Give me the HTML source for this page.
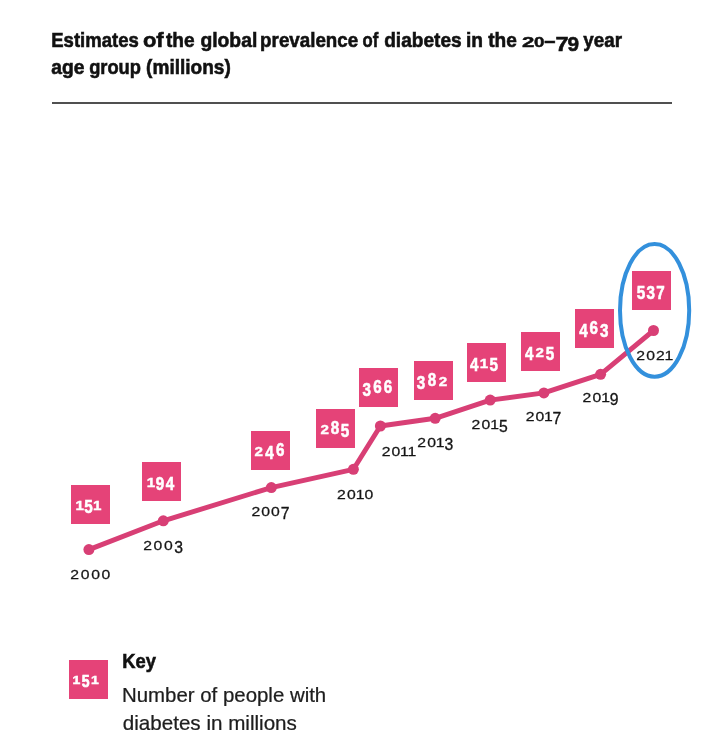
<!DOCTYPE html>
<html><head><meta charset="utf-8"><style>
html,body{margin:0;padding:0;background:#fff;width:718px;height:738px;overflow:hidden}
svg{display:block;font-family:"Liberation Sans",sans-serif;will-change:transform}
</style></head><body>
<svg width="718" height="738" viewBox="0 0 718 738">
<rect width="718" height="738" fill="#fff"/>
<text transform="translate(51.22 47.00) scale(0.8825 1.0000)" font-size="21" font-weight="bold" fill="#111" stroke="#111" stroke-width="0.60">Estimates</text>
<text transform="translate(142.96 47.00) scale(1.0421 1.0000)" font-size="21" font-weight="bold" fill="#111" stroke="#111" stroke-width="0.60">of</text>
<text transform="translate(165.90 47.00) scale(0.9097 1.0000)" font-size="21" font-weight="bold" fill="#111" stroke="#111" stroke-width="0.60">the</text>
<text transform="translate(200.38 47.00) scale(0.9203 1.0000)" font-size="21" font-weight="bold" fill="#111" stroke="#111" stroke-width="0.60">global</text>
<text transform="translate(260.11 47.00) scale(0.8944 1.0000)" font-size="21" font-weight="bold" fill="#111" stroke="#111" stroke-width="0.60">prevalence</text>
<text transform="translate(362.61 47.00) scale(0.7947 1.0000)" font-size="21" font-weight="bold" fill="#111" stroke="#111" stroke-width="0.60">of</text>
<text transform="translate(384.19 47.00) scale(0.9096 1.0000)" font-size="21" font-weight="bold" fill="#111" stroke="#111" stroke-width="0.60">diabetes</text>
<text transform="translate(465.99 47.00) scale(0.9125 1.0000)" font-size="21" font-weight="bold" fill="#111" stroke="#111" stroke-width="0.60">in</text>
<text transform="translate(488.20 47.00) scale(0.9097 1.0000)" font-size="21" font-weight="bold" fill="#111" stroke="#111" stroke-width="0.60">the</text>
<text transform="translate(583.30 47.00) scale(0.8953 1.0000)" font-size="21" font-weight="bold" fill="#111" stroke="#111" stroke-width="0.60">year</text>
<text transform="translate(521.94 47.00) scale(1.0600 0.6849)" font-size="21" font-weight="bold" fill="#111" stroke="#111" stroke-width="0.60">2</text>
<text transform="translate(533.90 47.00) scale(0.9000 0.6849)" font-size="21" font-weight="bold" fill="#111" stroke="#111" stroke-width="0.60">0</text>
<text transform="translate(544.24 46.50) scale(0.9600 1.0000)" font-size="21" font-weight="bold" fill="#111" stroke="#111" stroke-width="0.60">–</text>
<text transform="translate(555.48 51.00) scale(1.1200 0.9589)" font-size="21" font-weight="bold" fill="#111" stroke="#111" stroke-width="0.60">7</text>
<text transform="translate(567.41 51.00) scale(0.9900 0.9589)" font-size="21" font-weight="bold" fill="#111" stroke="#111" stroke-width="0.60">9</text>
<text transform="translate(51.18 74.30) scale(0.9171 1.0000)" font-size="21" font-weight="bold" fill="#111" stroke="#111" stroke-width="0.60">age</text>
<text transform="translate(89.13 74.30) scale(0.8724 1.0000)" font-size="21" font-weight="bold" fill="#111" stroke="#111" stroke-width="0.60">group</text>
<text transform="translate(146.09 74.30) scale(0.9077 1.0000)" font-size="21" font-weight="bold" fill="#111" stroke="#111" stroke-width="0.60">(millions)</text>
<rect x="52" y="102" width="620" height="2" fill="#505050"/>
<polyline points="88.9,549.6 163.3,520.8 271.3,487.6 353.4,469.3 380.4,426.0 435.2,418.3 490.2,400.1 543.9,392.9 600.6,374.3 653.5,330.5" fill="none" stroke="#d83f75" stroke-width="4.9" stroke-linejoin="round"/>
<circle cx="88.9" cy="549.6" r="5.5" fill="#d83f75"/>
<circle cx="163.3" cy="520.8" r="5.5" fill="#d83f75"/>
<circle cx="271.3" cy="487.6" r="5.5" fill="#d83f75"/>
<circle cx="353.4" cy="469.3" r="5.5" fill="#d83f75"/>
<circle cx="380.4" cy="426.0" r="5.5" fill="#d83f75"/>
<circle cx="435.2" cy="418.3" r="5.5" fill="#d83f75"/>
<circle cx="490.2" cy="400.1" r="5.5" fill="#d83f75"/>
<circle cx="543.9" cy="392.9" r="5.5" fill="#d83f75"/>
<circle cx="600.6" cy="374.3" r="5.5" fill="#d83f75"/>
<circle cx="653.5" cy="330.5" r="5.5" fill="#d83f75"/>
<rect x="71" y="485" width="39" height="39" fill="#e54378"/>
<text transform="translate(79.80 509.90) scale(0.950 0.836)" text-anchor="middle" font-size="16" font-weight="bold" fill="#fff" stroke="#fff" stroke-width="0.50">1</text>
<text transform="translate(88.50 513.10) scale(0.950 1.126)" text-anchor="middle" font-size="16" font-weight="bold" fill="#fff" stroke="#fff" stroke-width="0.50">5</text>
<text transform="translate(97.20 509.90) scale(0.950 0.836)" text-anchor="middle" font-size="16" font-weight="bold" fill="#fff" stroke="#fff" stroke-width="0.50">1</text>
<rect x="142" y="462" width="39" height="39" fill="#e54378"/>
<text transform="translate(151.00 486.90) scale(0.950 0.836)" text-anchor="middle" font-size="16" font-weight="bold" fill="#fff" stroke="#fff" stroke-width="0.50">1</text>
<text transform="translate(159.87 490.10) scale(0.950 1.126)" text-anchor="middle" font-size="16" font-weight="bold" fill="#fff" stroke="#fff" stroke-width="0.50">9</text>
<text transform="translate(170.00 490.10) scale(0.950 1.126)" text-anchor="middle" font-size="16" font-weight="bold" fill="#fff" stroke="#fff" stroke-width="0.50">4</text>
<rect x="251" y="431" width="39" height="39" fill="#e54378"/>
<text transform="translate(258.60 455.90) scale(0.950 0.836)" text-anchor="middle" font-size="16" font-weight="bold" fill="#fff" stroke="#fff" stroke-width="0.50">2</text>
<text transform="translate(269.35 459.10) scale(0.950 1.126)" text-anchor="middle" font-size="16" font-weight="bold" fill="#fff" stroke="#fff" stroke-width="0.50">4</text>
<text transform="translate(280.10 455.90) scale(0.950 1.136)" text-anchor="middle" font-size="16" font-weight="bold" fill="#fff" stroke="#fff" stroke-width="0.50">6</text>
<rect x="316" y="409" width="39" height="39" fill="#e54378"/>
<text transform="translate(324.80 433.90) scale(0.950 0.836)" text-anchor="middle" font-size="16" font-weight="bold" fill="#fff" stroke="#fff" stroke-width="0.50">2</text>
<text transform="translate(334.85 433.90) scale(0.950 1.136)" text-anchor="middle" font-size="16" font-weight="bold" fill="#fff" stroke="#fff" stroke-width="0.50">8</text>
<text transform="translate(344.90 437.10) scale(0.950 1.126)" text-anchor="middle" font-size="16" font-weight="bold" fill="#fff" stroke="#fff" stroke-width="0.50">5</text>
<rect x="359" y="368" width="39" height="39" fill="#e54378"/>
<text transform="translate(366.80 396.10) scale(0.950 1.126)" text-anchor="middle" font-size="16" font-weight="bold" fill="#fff" stroke="#fff" stroke-width="0.50">3</text>
<text transform="translate(377.35 392.90) scale(0.950 1.136)" text-anchor="middle" font-size="16" font-weight="bold" fill="#fff" stroke="#fff" stroke-width="0.50">6</text>
<text transform="translate(387.90 392.90) scale(0.950 1.136)" text-anchor="middle" font-size="16" font-weight="bold" fill="#fff" stroke="#fff" stroke-width="0.50">6</text>
<rect x="414" y="361" width="39" height="39" fill="#e54378"/>
<text transform="translate(421.00 389.10) scale(0.950 1.126)" text-anchor="middle" font-size="16" font-weight="bold" fill="#fff" stroke="#fff" stroke-width="0.50">3</text>
<text transform="translate(431.95 385.90) scale(0.950 1.136)" text-anchor="middle" font-size="16" font-weight="bold" fill="#fff" stroke="#fff" stroke-width="0.50">8</text>
<text transform="translate(442.90 385.90) scale(0.950 0.836)" text-anchor="middle" font-size="16" font-weight="bold" fill="#fff" stroke="#fff" stroke-width="0.50">2</text>
<rect x="467" y="343" width="39" height="39" fill="#e54378"/>
<text transform="translate(474.30 371.10) scale(0.950 1.126)" text-anchor="middle" font-size="16" font-weight="bold" fill="#fff" stroke="#fff" stroke-width="0.50">4</text>
<text transform="translate(484.00 367.90) scale(0.950 0.836)" text-anchor="middle" font-size="16" font-weight="bold" fill="#fff" stroke="#fff" stroke-width="0.50">1</text>
<text transform="translate(493.70 371.10) scale(0.950 1.126)" text-anchor="middle" font-size="16" font-weight="bold" fill="#fff" stroke="#fff" stroke-width="0.50">5</text>
<rect x="521" y="332" width="39" height="39" fill="#e54378"/>
<text transform="translate(529.30 360.10) scale(0.950 1.126)" text-anchor="middle" font-size="16" font-weight="bold" fill="#fff" stroke="#fff" stroke-width="0.50">4</text>
<text transform="translate(539.60 356.90) scale(0.950 0.836)" text-anchor="middle" font-size="16" font-weight="bold" fill="#fff" stroke="#fff" stroke-width="0.50">2</text>
<text transform="translate(549.90 360.10) scale(0.950 1.126)" text-anchor="middle" font-size="16" font-weight="bold" fill="#fff" stroke="#fff" stroke-width="0.50">5</text>
<rect x="575" y="309" width="39" height="39" fill="#e54378"/>
<text transform="translate(583.50 337.10) scale(0.950 1.126)" text-anchor="middle" font-size="16" font-weight="bold" fill="#fff" stroke="#fff" stroke-width="0.50">4</text>
<text transform="translate(593.80 333.90) scale(0.950 1.136)" text-anchor="middle" font-size="16" font-weight="bold" fill="#fff" stroke="#fff" stroke-width="0.50">6</text>
<text transform="translate(604.10 337.10) scale(0.950 1.126)" text-anchor="middle" font-size="16" font-weight="bold" fill="#fff" stroke="#fff" stroke-width="0.50">3</text>
<rect x="632" y="271" width="39" height="39" fill="#e54378"/>
<text transform="translate(641.00 299.10) scale(0.950 1.126)" text-anchor="middle" font-size="16" font-weight="bold" fill="#fff" stroke="#fff" stroke-width="0.50">5</text>
<text transform="translate(650.70 299.10) scale(0.950 1.126)" text-anchor="middle" font-size="16" font-weight="bold" fill="#fff" stroke="#fff" stroke-width="0.50">3</text>
<text transform="translate(660.40 299.10) scale(0.950 1.126)" text-anchor="middle" font-size="16" font-weight="bold" fill="#fff" stroke="#fff" stroke-width="0.50">7</text>
<text transform="translate(74.60 579.00) scale(1.050 0.843)" text-anchor="middle" font-size="15" font-weight="normal" fill="#151515" stroke="#151515" stroke-width="0.30">2</text>
<text transform="translate(85.07 579.00) scale(1.050 0.843)" text-anchor="middle" font-size="15" font-weight="normal" fill="#151515" stroke="#151515" stroke-width="0.30">0</text>
<text transform="translate(95.53 579.00) scale(1.050 0.843)" text-anchor="middle" font-size="15" font-weight="normal" fill="#151515" stroke="#151515" stroke-width="0.30">0</text>
<text transform="translate(106.00 579.00) scale(1.050 0.843)" text-anchor="middle" font-size="15" font-weight="normal" fill="#151515" stroke="#151515" stroke-width="0.30">0</text>
<text transform="translate(147.60 550.00) scale(1.050 0.843)" text-anchor="middle" font-size="15" font-weight="normal" fill="#151515" stroke="#151515" stroke-width="0.30">2</text>
<text transform="translate(157.97 550.00) scale(1.050 0.843)" text-anchor="middle" font-size="15" font-weight="normal" fill="#151515" stroke="#151515" stroke-width="0.30">0</text>
<text transform="translate(168.33 550.00) scale(1.050 0.843)" text-anchor="middle" font-size="15" font-weight="normal" fill="#151515" stroke="#151515" stroke-width="0.30">0</text>
<text transform="translate(178.70 552.90) scale(1.050 1.124)" text-anchor="middle" font-size="15" font-weight="normal" fill="#151515" stroke="#151515" stroke-width="0.30">3</text>
<text transform="translate(255.80 516.00) scale(1.050 0.843)" text-anchor="middle" font-size="15" font-weight="normal" fill="#151515" stroke="#151515" stroke-width="0.30">2</text>
<text transform="translate(265.60 516.00) scale(1.050 0.843)" text-anchor="middle" font-size="15" font-weight="normal" fill="#151515" stroke="#151515" stroke-width="0.30">0</text>
<text transform="translate(275.40 516.00) scale(1.050 0.843)" text-anchor="middle" font-size="15" font-weight="normal" fill="#151515" stroke="#151515" stroke-width="0.30">0</text>
<text transform="translate(285.20 518.90) scale(1.050 1.124)" text-anchor="middle" font-size="15" font-weight="normal" fill="#151515" stroke="#151515" stroke-width="0.30">7</text>
<text transform="translate(341.30 498.60) scale(1.050 0.843)" text-anchor="middle" font-size="15" font-weight="normal" fill="#151515" stroke="#151515" stroke-width="0.30">2</text>
<text transform="translate(351.30 498.60) scale(1.050 0.843)" text-anchor="middle" font-size="15" font-weight="normal" fill="#151515" stroke="#151515" stroke-width="0.30">0</text>
<text transform="translate(360.05 498.60) scale(1.050 0.843)" text-anchor="middle" font-size="15" font-weight="normal" fill="#151515" stroke="#151515" stroke-width="0.30">1</text>
<text transform="translate(368.80 498.60) scale(1.050 0.843)" text-anchor="middle" font-size="15" font-weight="normal" fill="#151515" stroke="#151515" stroke-width="0.30">0</text>
<text transform="translate(386.20 455.60) scale(1.050 0.843)" text-anchor="middle" font-size="15" font-weight="normal" fill="#151515" stroke="#151515" stroke-width="0.30">2</text>
<text transform="translate(395.95 455.60) scale(1.050 0.843)" text-anchor="middle" font-size="15" font-weight="normal" fill="#151515" stroke="#151515" stroke-width="0.30">0</text>
<text transform="translate(404.49 455.60) scale(1.050 0.843)" text-anchor="middle" font-size="15" font-weight="normal" fill="#151515" stroke="#151515" stroke-width="0.30">1</text>
<text transform="translate(411.80 455.60) scale(1.050 0.843)" text-anchor="middle" font-size="15" font-weight="normal" fill="#151515" stroke="#151515" stroke-width="0.30">1</text>
<text transform="translate(421.70 446.80) scale(1.050 0.843)" text-anchor="middle" font-size="15" font-weight="normal" fill="#151515" stroke="#151515" stroke-width="0.30">2</text>
<text transform="translate(431.55 446.80) scale(1.050 0.843)" text-anchor="middle" font-size="15" font-weight="normal" fill="#151515" stroke="#151515" stroke-width="0.30">0</text>
<text transform="translate(440.18 446.80) scale(1.050 0.843)" text-anchor="middle" font-size="15" font-weight="normal" fill="#151515" stroke="#151515" stroke-width="0.30">1</text>
<text transform="translate(448.80 449.70) scale(1.050 1.124)" text-anchor="middle" font-size="15" font-weight="normal" fill="#151515" stroke="#151515" stroke-width="0.30">3</text>
<text transform="translate(476.00 429.00) scale(1.050 0.843)" text-anchor="middle" font-size="15" font-weight="normal" fill="#151515" stroke="#151515" stroke-width="0.30">2</text>
<text transform="translate(485.96 429.00) scale(1.050 0.843)" text-anchor="middle" font-size="15" font-weight="normal" fill="#151515" stroke="#151515" stroke-width="0.30">0</text>
<text transform="translate(494.68 429.00) scale(1.050 0.843)" text-anchor="middle" font-size="15" font-weight="normal" fill="#151515" stroke="#151515" stroke-width="0.30">1</text>
<text transform="translate(503.40 431.90) scale(1.050 1.124)" text-anchor="middle" font-size="15" font-weight="normal" fill="#151515" stroke="#151515" stroke-width="0.30">5</text>
<text transform="translate(530.20 420.60) scale(1.050 0.843)" text-anchor="middle" font-size="15" font-weight="normal" fill="#151515" stroke="#151515" stroke-width="0.30">2</text>
<text transform="translate(539.91 420.60) scale(1.050 0.843)" text-anchor="middle" font-size="15" font-weight="normal" fill="#151515" stroke="#151515" stroke-width="0.30">0</text>
<text transform="translate(548.40 420.60) scale(1.050 0.843)" text-anchor="middle" font-size="15" font-weight="normal" fill="#151515" stroke="#151515" stroke-width="0.30">1</text>
<text transform="translate(556.90 423.50) scale(1.050 1.124)" text-anchor="middle" font-size="15" font-weight="normal" fill="#151515" stroke="#151515" stroke-width="0.30">7</text>
<text transform="translate(587.00 402.30) scale(1.050 0.843)" text-anchor="middle" font-size="15" font-weight="normal" fill="#151515" stroke="#151515" stroke-width="0.30">2</text>
<text transform="translate(596.89 402.30) scale(1.050 0.843)" text-anchor="middle" font-size="15" font-weight="normal" fill="#151515" stroke="#151515" stroke-width="0.30">0</text>
<text transform="translate(605.55 402.30) scale(1.050 0.843)" text-anchor="middle" font-size="15" font-weight="normal" fill="#151515" stroke="#151515" stroke-width="0.30">1</text>
<text transform="translate(614.20 405.20) scale(1.050 1.124)" text-anchor="middle" font-size="15" font-weight="normal" fill="#151515" stroke="#151515" stroke-width="0.30">9</text>
<text transform="translate(640.70 360.20) scale(1.050 0.843)" text-anchor="middle" font-size="15" font-weight="normal" fill="#151515" stroke="#151515" stroke-width="0.30">2</text>
<text transform="translate(650.51 360.20) scale(1.050 0.843)" text-anchor="middle" font-size="15" font-weight="normal" fill="#151515" stroke="#151515" stroke-width="0.30">0</text>
<text transform="translate(660.32 360.20) scale(1.050 0.843)" text-anchor="middle" font-size="15" font-weight="normal" fill="#151515" stroke="#151515" stroke-width="0.30">2</text>
<text transform="translate(668.90 360.20) scale(1.050 0.843)" text-anchor="middle" font-size="15" font-weight="normal" fill="#151515" stroke="#151515" stroke-width="0.30">1</text>
<ellipse cx="654.6" cy="310.4" rx="34.6" ry="66.3" fill="none" stroke="#3390dc" stroke-width="4"/>
<rect x="69" y="660" width="39" height="39" fill="#e54378"/>
<text transform="translate(76.50 684.40) scale(1.000 0.831)" text-anchor="middle" font-size="14" font-weight="bold" fill="#fff" stroke="#fff" stroke-width="0.60">1</text>
<text transform="translate(85.65 687.40) scale(1.000 1.142)" text-anchor="middle" font-size="14" font-weight="bold" fill="#fff" stroke="#fff" stroke-width="0.60">5</text>
<text transform="translate(94.80 684.40) scale(1.000 0.831)" text-anchor="middle" font-size="14" font-weight="bold" fill="#fff" stroke="#fff" stroke-width="0.60">1</text>
<text transform="translate(122.32 668.00) scale(0.8757 1.0000)" font-size="21" font-weight="bold" fill="#111" stroke="#111" stroke-width="0.60">Key</text>
<text transform="translate(121.96 702.20) scale(1.0213 1.0000)" font-size="20" font-weight="normal" fill="#1e1e1e" stroke="#1e1e1e" stroke-width="0.25">Number of people with</text>
<text transform="translate(122.77 729.60) scale(1.0311 1.0000)" font-size="20" font-weight="normal" fill="#1e1e1e" stroke="#1e1e1e" stroke-width="0.25">diabetes in millions</text>
</svg>
</body></html>
